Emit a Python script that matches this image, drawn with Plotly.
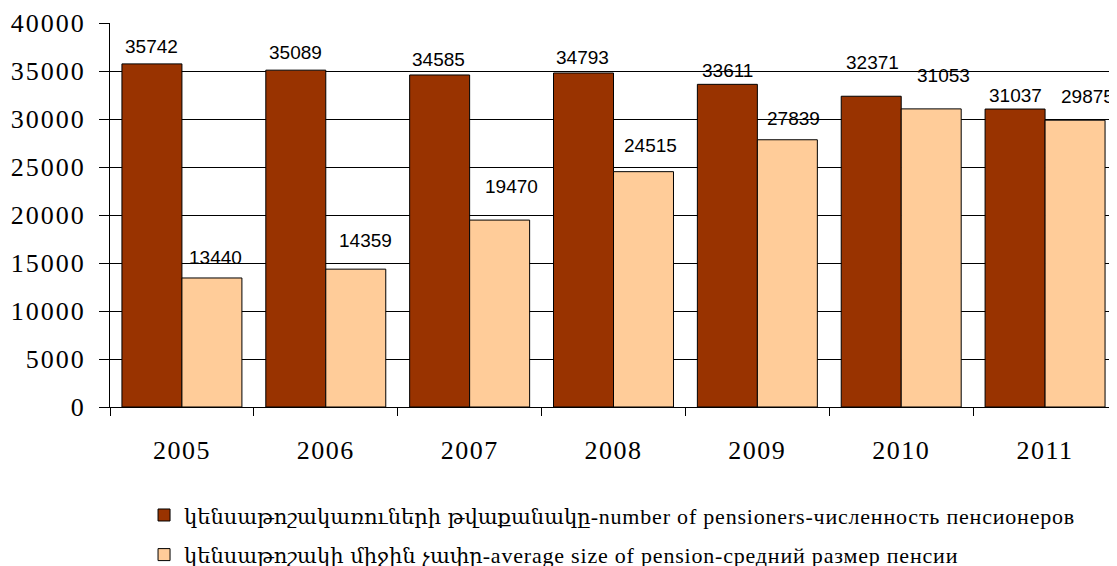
import plotly.graph_objects as go

years = ["2005", "2006", "2007", "2008", "2009", "2010", "2011"]
pensioners = [35742, 35089, 34585, 34793, 33611, 32371, 31037]
avg_pension = [13440, 14359, 19470, 24515, 27839, 31053, 29875]
name_pensioners_hy = "կենսաթոշակառուների թվաքանակը"
name_pensioners_rest = "-number of pensioners-численность пенсионеров"
name_avg_hy = "կենսաթոշակի միջին չափը"
name_avg_rest = "-average size of pension-средний размер пенсии"
y_ticks = [0, 5000, 10000, 15000, 20000, 25000, 30000, 35000, 40000]

# label offsets (pixels) as in the reference
dark_xshift = [0, 0, -1, -1, 0, 1, 0]
dark_yshift = [17, 18, 15, 15, 14, 34, 14]
light_xshift = [4, 10, 12, 7, 6, 12, 12]
light_yshift = [20, 29, 34, 26, 21, 33, 24]

HY = "<span style='font-family:DejaVu Serif;font-size:21px'>{}</span>"
WIDE = "<span style='letter-spacing:{}px'>{}</span>"

fig = go.Figure()
fig.add_trace(go.Bar(x=years, y=pensioners,
                     name=HY.format(name_pensioners_hy) + WIDE.format(0.8, name_pensioners_rest),
                     legendgroup="a",
                     marker=dict(color="#993300", line=dict(color="black", width=1))))
fig.add_trace(go.Bar(x=years, y=avg_pension,
                     name=HY.format(name_avg_hy) + WIDE.format(0.8, name_avg_rest),
                     legendgroup="b",
                     marker=dict(color="#FFCC99", line=dict(color="black", width=1))))

ann = []
for i, yr in enumerate(years):
    ann.append(dict(x=i, y=pensioners[i], xref="x", yref="y", text=str(pensioners[i]),
                    showarrow=False, xshift=-30 + dark_xshift[i], yshift=dark_yshift[i],
                    font=dict(family="Liberation Sans, Arial", size=19, color="black")))
    ann.append(dict(x=i, y=avg_pension[i], xref="x", yref="y", text=str(avg_pension[i]),
                    showarrow=False, xshift=30 + light_xshift[i], yshift=light_yshift[i],
                    font=dict(family="Liberation Sans, Arial", size=19, color="black")))

fig.update_layout(
    width=1117, height=566,
    margin=dict(l=102, r=8, t=15, b=167, autoexpand=False),
    paper_bgcolor="white", plot_bgcolor="white",
    barmode="group", bargap=0.166, bargroupgap=0,
    annotations=ann,
    showlegend=True,
    legend=dict(x=0.0338, xanchor="left", y=0.141, yanchor="top", yref="container",
                traceorder="grouped", tracegroupgap=8,
                font=dict(family="Liberation Serif, Times New Roman", size=22, color="black"),
                bgcolor="rgba(0,0,0,0)"),
    font=dict(family="Liberation Serif, Times New Roman", color="black"),
)
fig.update_yaxes(range=[0, 40000], tickvals=y_ticks, automargin=False,
                 ticktext=[WIDE.format(2, v) for v in y_ticks],
                 showgrid=True, gridcolor="black", gridwidth=1,
                 showline=True, linecolor="black", linewidth=1, ticks="outside", ticklen=10,
                 tickcolor="black", zeroline=False, ticklabelstandoff=8,
                 tickfont=dict(family="Liberation Serif, Times New Roman", size=26, color="black"))
fig.update_xaxes(type="category", range=[-0.5, len(years) - 0.5], automargin=False,
                 tickvals=years, ticktext=[WIDE.format(1.5, y) for y in years],
                 showline=True, linecolor="black", linewidth=1, ticks="outside", ticklen=8,
                 tickson="boundaries", tickcolor="black", ticklabelstandoff=20, tickangle=0,
                 tickfont=dict(family="Liberation Serif, Times New Roman", size=26, color="black"))

fig.write_html("out.html")
